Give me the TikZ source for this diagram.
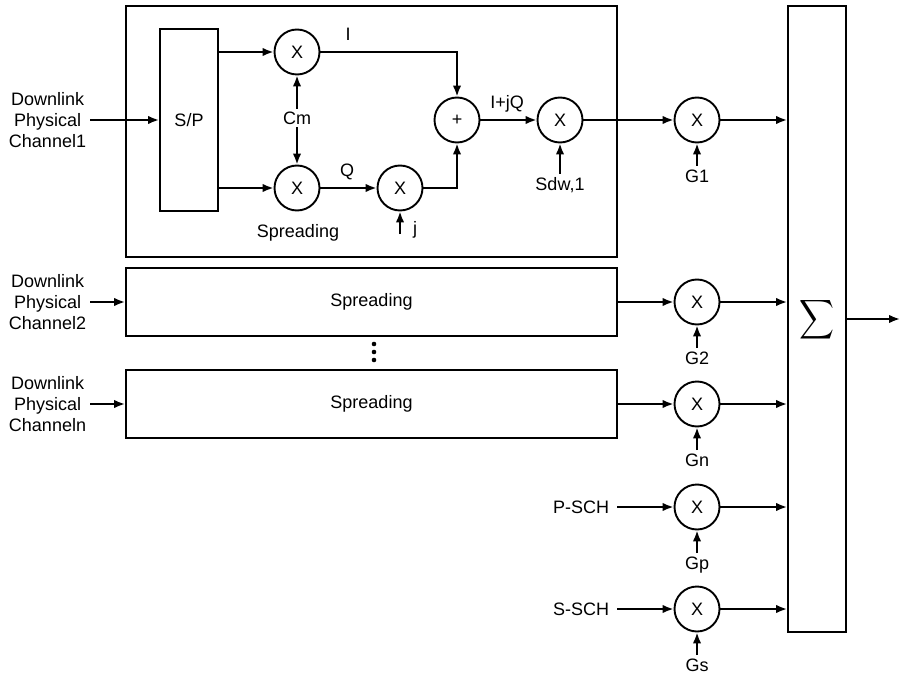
\documentclass[tikz,border=0pt]{standalone}
\usepackage{fontspec}
\setmainfont{Liberation Sans}
\usetikzlibrary{arrows.meta}
\begin{document}
\begin{tikzpicture}[x=1pt,y=-1pt,
  font=\fontsize{18}{21}\selectfont,
  line width=1.9pt,
  arr/.style={-{Latex[length=11pt,width=8.5pt]}},
  mult/.style={draw,circle,minimum size=45pt,inner sep=0pt},
  blk/.style={draw,rectangle,inner sep=0pt},
  lbl/.style={inner sep=2pt,align=center}]
\useasboundingbox (0,0) rectangle (901,676);

% blocks
\node[blk,minimum width=491pt,minimum height=251pt] (box1) at (371.5,131.5) {};
\node[blk,minimum width=58pt,minimum height=182pt] (sp) at (189,120) {S/P};
\node[blk,minimum width=491pt,minimum height=68pt] (sp2) at (371.5,302) {Spreading};
\node[blk,minimum width=491pt,minimum height=68pt] (spn) at (371.5,404) {Spreading};
\node[blk,minimum width=58pt,minimum height=626pt] (sum) at (817,319) {};
\node at (817,320) {\resizebox*{35pt}{44pt}{$\displaystyle\sum$}};

% multipliers
\node[mult] (m1) at (297,52) {X};
\node[mult] (mq) at (297,188) {X};
\node[mult] (mj) at (400,188) {X};
\node[mult] (plus) at (457,120) {+};
\node[mult] (msdw) at (560,120) {X};
\node[mult] (g1) at (697,120) {X};
\node[mult] (g2) at (697,302) {X};
\node[mult] (gn) at (697,404) {X};
\node[mult] (gp) at (697,507) {X};
\node[mult] (gs) at (697,609) {X};

% input labels
\node[lbl,anchor=east,inner sep=3pt] (in1) at (90,120) {Downlink\\Physical\\Channel1};
\node[lbl,anchor=east,inner sep=3pt] (in2) at (90,302) {Downlink\\Physical\\Channel2};
\node[lbl,anchor=east,inner sep=3pt] (inn) at (90,404) {Downlink\\Physical\\Channeln};
\node[lbl,anchor=east,inner sep=7pt] (psch) at (617,507) {P-SCH};
\node[lbl,anchor=east,inner sep=7pt] (ssch) at (617,609) {S-SCH};

% inner labels
\node[lbl] (cm) at (297,118) {Cm};
\node[lbl] (lI) at (348,34) {I};
\node[lbl] (lQ) at (347,172) {Q};
\node[lbl] (lIQ) at (507,104) {I+jQ};
\node[lbl] (spr) at (298,233) {Spreading};
\node[lbl,anchor=north,inner sep=3pt] (lsdw) at (560,174) {Sdw,1};
\node[lbl] (lj) at (415,230) {j};
\coordinate (jb) at (400,234);

% gain labels
\node[lbl,anchor=north,inner sep=3pt] (lg1) at (697,166) {G1};
\node[lbl,anchor=north,inner sep=3pt] (lg2) at (697,348) {G2};
\node[lbl,anchor=north,inner sep=3pt] (lgn) at (697,450) {Gn};
\node[lbl,anchor=north,inner sep=3pt] (lgp) at (697,553) {Gp};
\node[lbl,anchor=north,inner sep=3pt] (lgs) at (697,655) {Gs};

% dots
\foreach \yy in {344,352,360} \fill (374,\yy) circle (2.3pt);

% connectors
\coordinate (out) at (900,319);
\draw[arr] (in1.east) -- (sp.west);
\draw[arr] (in2.east) -- (sp2.west);
\draw[arr] (inn.east) -- (spn.west);
\draw[arr] (sp.east |- m1) -- (m1.west);
\draw[arr] (sp.east |- mq) -- (mq.west);
\draw[arr] (cm.north) -- (m1.south);
\draw[arr] (cm.south) -- (mq.north);
\draw[arr] (mq.east) -- (mj.west);
\draw[arr] (jb) -- (mj.south);
\draw[arr] (m1.east) -| (plus.north);
\draw[arr] (mj.east) -| (plus.south);
\draw[arr] (plus.east) -- (msdw.west);
\draw[arr] (lsdw.north) -- (msdw.south);
\draw[arr] (msdw.east) -- (g1.west);
\draw[arr] (sp2.east) -- (g2.west);
\draw[arr] (spn.east) -- (gn.west);
\draw[arr] (psch.east) -- (gp.west);
\draw[arr] (ssch.east) -- (gs.west);
\foreach \g in {g1,g2,gn,gp,gs} \draw[arr] (\g.east) -- (\g.east -| sum.west);
\draw[arr] (lg1.north) -- (g1.south);
\draw[arr] (lg2.north) -- (g2.south);
\draw[arr] (lgn.north) -- (gn.south);
\draw[arr] (lgp.north) -- (gp.south);
\draw[arr] (lgs.north) -- (gs.south);
\draw[arr] (sum.east |- out) -- (out);
\end{tikzpicture}
\end{document}
